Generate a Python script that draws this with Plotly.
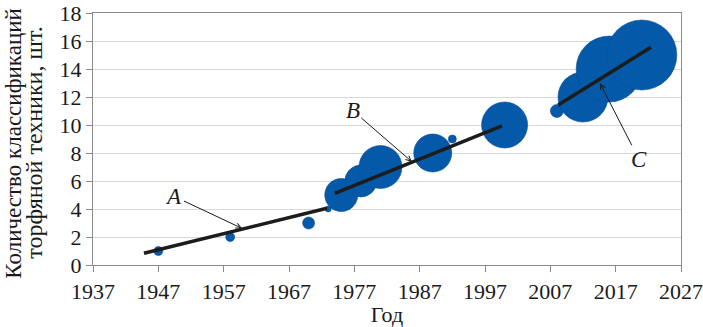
import plotly.graph_objects as go

# Data
years = [1947, 1958, 1970, 1973, 1975, 1978, 1981, 1989, 1992, 2000, 2008, 2012, 2016, 2021]
counts = [1, 2, 3, 4, 5, 6, 7, 8, 9, 10, 11, 12, 14, 15]
bubble = [9, 9, 12, 6, 33, 32, 43, 38, 8, 46, 13, 50, 66, 70]

trend_a_x = [1944.8, 1972.8]
trend_a_y = [0.84, 4.05]
trend_b_x = [1974.0, 1999.6]
trend_b_y = [5.12, 9.93]
trend_c_x = [2008.2, 2022.4]
trend_c_y = [11.43, 15.55]

labels = ["A", "B", "C"]
label_head_x = [1959.8, 1985.8, 2014.6]
label_head_y = [2.62, 7.38, 12.98]
label_off_x = [-68, -59, 39]
label_off_y = [-32, -51, 76]

x_ticks = list(range(1937, 2028, 10))
y_ticks = list(range(0, 19, 2))

y_title_lines = ["Количество классификаций", "торфяной техники, шт."]
x_title = "Год"

FONT = "Liberation Serif"
BLUE = "#0459A9"
TXT = "#1a1a1a"

fig = go.Figure()
fig.add_trace(go.Scatter(
    x=years, y=counts, mode="markers",
    marker=dict(size=bubble, sizemode="diameter", color=BLUE,
                opacity=1, line=dict(color="#0a4e93", width=0.6)),
    showlegend=False, hoverinfo="x+y"))

for tx, ty in [(trend_a_x, trend_a_y), (trend_b_x, trend_b_y), (trend_c_x, trend_c_y)]:
    fig.add_trace(go.Scatter(x=tx, y=ty, mode="lines",
                             line=dict(color="#1c1c1c", width=3.5),
                             showlegend=False, hoverinfo="skip"))

for lab, hx, hy, ox, oy in zip(labels, label_head_x, label_head_y, label_off_x, label_off_y):
    fig.add_annotation(x=hx, y=hy, xref="x", yref="y", ax=ox, ay=oy,
                       text="<i>%s</i>" % lab, showarrow=True,
                       arrowhead=5, arrowsize=1, arrowwidth=1, arrowcolor=TXT,
                       font=dict(family=FONT, size=23, color=TXT))

for line_text, px, fs in zip(y_title_lines, [-0.1345, -0.1005], [23, 24]):
    fig.add_annotation(xref="paper", yref="paper", x=px, y=0.485,
                       text=line_text, textangle=-90, showarrow=False,
                       xanchor="center", yanchor="middle",
                       font=dict(family=FONT, size=fs, color=TXT))

axis_common = dict(showline=True, linecolor="#8a8a8a", linewidth=1.3, mirror=True,
                   ticks="outside", ticklen=6, tickcolor="#8a8a8a", tickwidth=1.3,
                   tickfont=dict(family=FONT, size=22, color=TXT), zeroline=False,
                   automargin=False)

fig.update_layout(
    width=703, height=327,
    margin=dict(l=93, r=22, t=13, b=62),
    paper_bgcolor="white", plot_bgcolor="white",
    xaxis=dict(range=[1937, 2027], tickvals=x_ticks, showgrid=False,
               title=dict(text=x_title, font=dict(family=FONT, size=22, color=TXT), standoff=0),
               **axis_common),
    yaxis=dict(range=[0, 18], tickvals=y_ticks, showgrid=True, gridcolor="#d9d9d9", gridwidth=1,
               **axis_common),
)

fig.write_html("out.html", config={"displayModeBar": False},
               post_script="document.body.style.margin='0';document.body.style.overflow='hidden';")
